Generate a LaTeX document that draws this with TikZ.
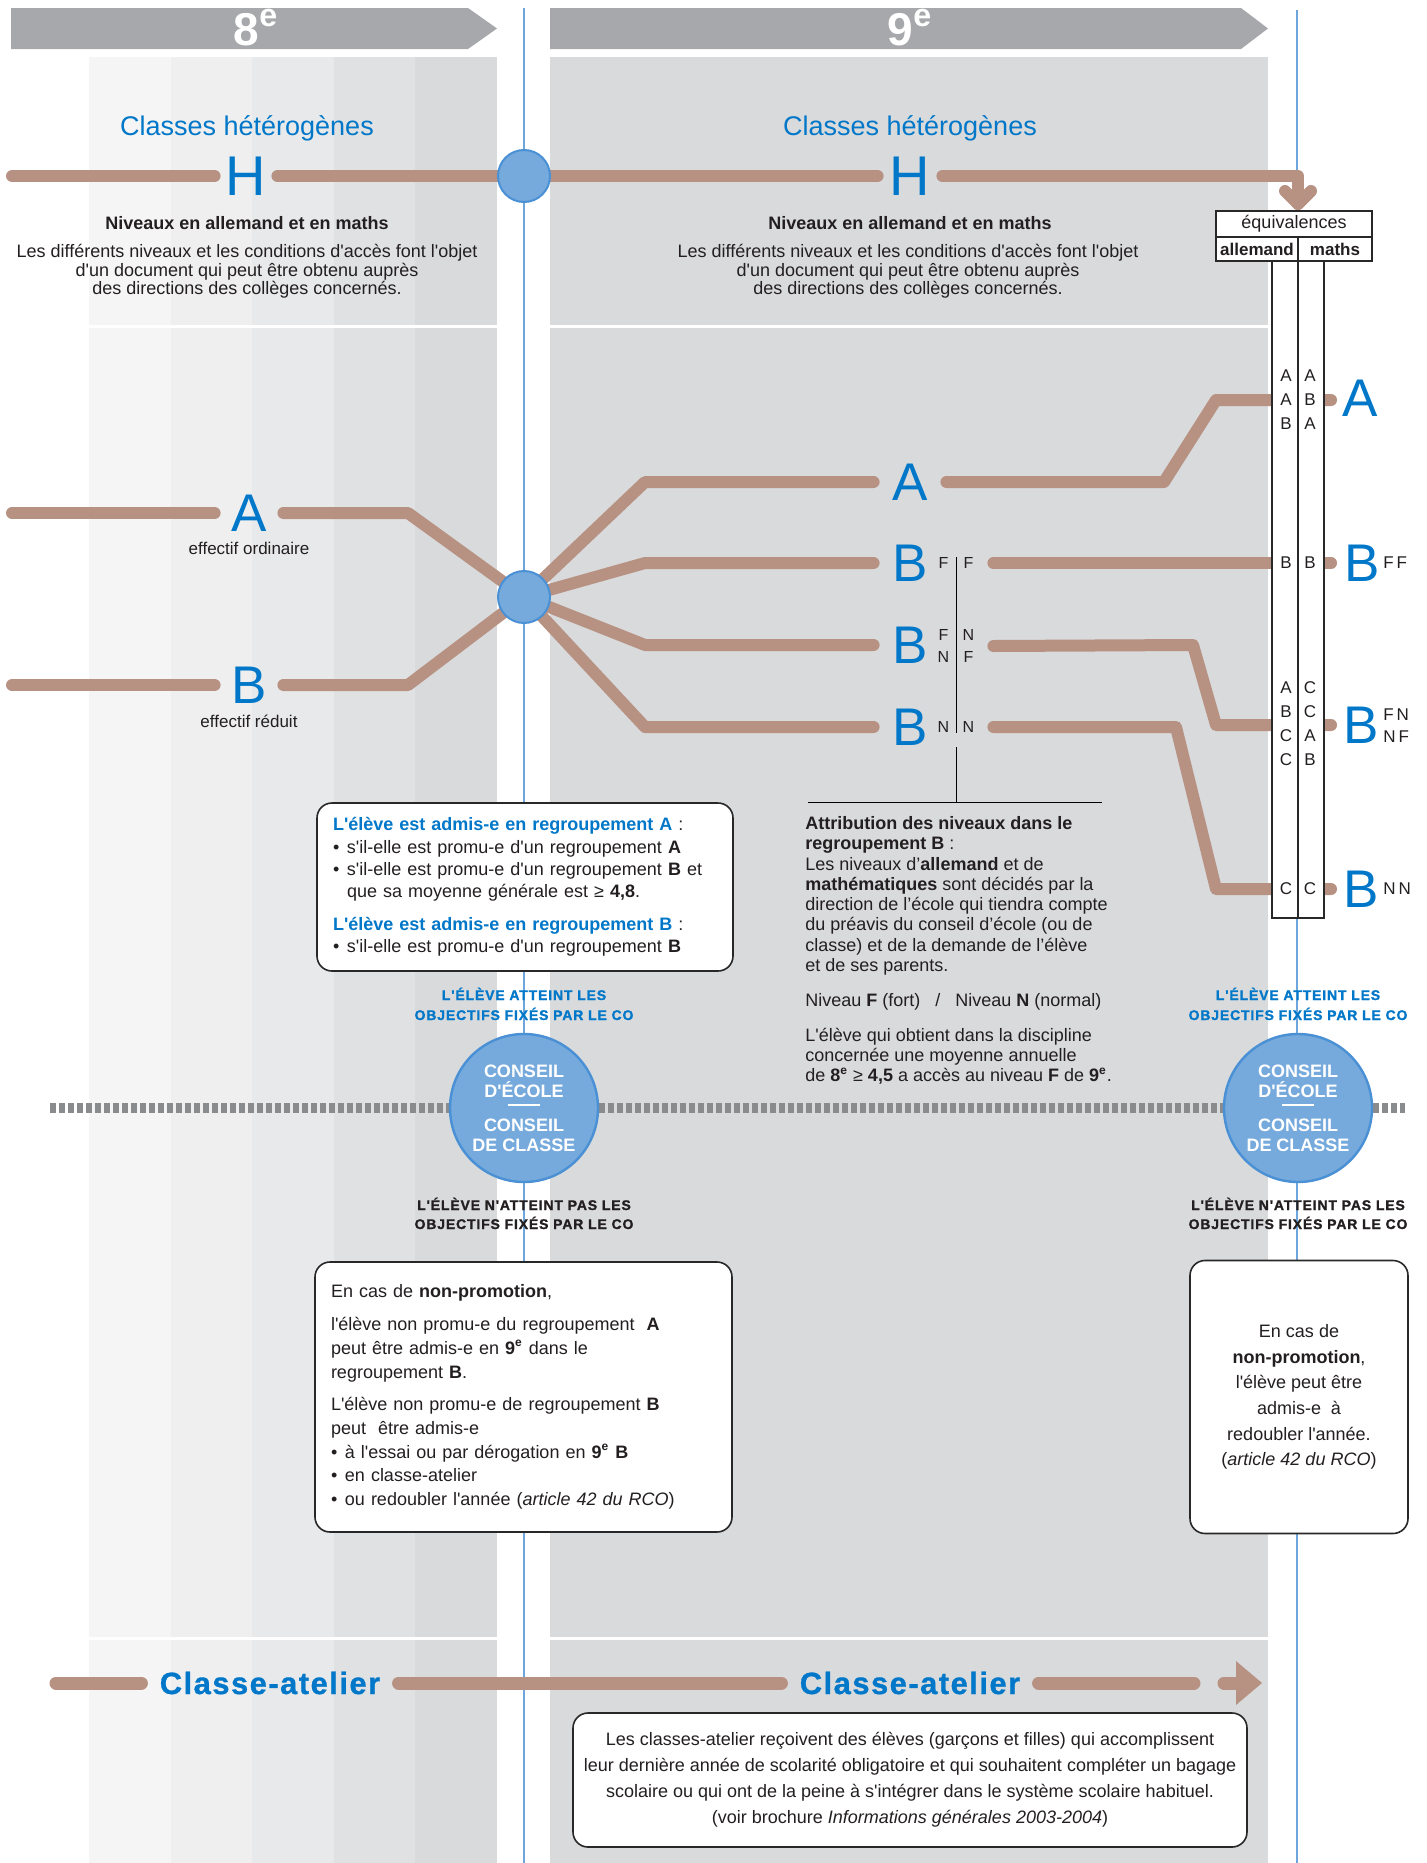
\documentclass[tikz,border=0pt]{standalone}
\usepackage{fontspec}
\setmainfont{Liberation Sans}[Ligatures=TeXOff]
\usetikzlibrary{calc}
\definecolor{brn}{RGB}{183,146,131}
\definecolor{bltxt}{RGB}{0,119,200}
\definecolor{blfill}{RGB}{118,170,220}
\definecolor{blline}{RGB}{74,144,212}
\definecolor{vline}{RGB}{110,165,220}
\definecolor{hdr}{RGB}{167,168,171}
\definecolor{pnl}{RGB}{217,218,220}
\definecolor{sA}{RGB}{245,245,246}
\definecolor{sB}{RGB}{239,239,240}
\definecolor{sC}{RGB}{232,233,234}
\definecolor{sD}{RGB}{224,225,227}
\definecolor{sE}{RGB}{217,218,220}
\definecolor{dotg}{RGB}{138,139,141}
\definecolor{txt}{RGB}{35,31,32}
\definecolor{bord}{RGB}{40,40,40}
\newcommand{\myfs}[2]{\fontsize{#1}{#2}\selectfont}
\newcommand{\bul}{\makebox[7pt][l]{\textbullet}}
\newcommand{\tstr}{\rule{0pt}{10pt}}
\newcommand{\pr}[2]{\makebox[5.5pt]{#1}\hspace{7pt}\makebox[5.5pt]{#2}}
\pgfdeclarelayer{panels}
\pgfdeclarelayer{lines}
\pgfsetlayers{panels,lines,main}
\begin{document}
\begin{tikzpicture}[x=0.5pt,y=-0.5pt,
  brw/.style={draw=brn, line width=6pt, line cap=round, line join=round},
  brwthick/.style={draw=brn, line width=6.5pt, line cap=round},
  hub/.style={circle, fill=blfill, draw=blline, line width=1pt, minimum size=26pt, inner sep=0pt},
  conseil/.style={circle, fill=blfill, draw=blline, line width=1.2pt, minimum size=74pt, inner sep=0pt, text=white, font=\bfseries\myfs{9}{10}, align=center},
  bigl/.style={text=bltxt, font=\myfs{26.5}{27}, inner sep=0pt, minimum width=#1},
  bigh/.style={text=bltxt, font=\myfs{28}{28}, inner sep=0pt, minimum width=#1},
  ttl/.style={text=bltxt, font=\myfs{13.5}{14}, inner sep=0pt, anchor=base},
  subt/.style={text=txt, font=\bfseries\myfs{9}{10}, inner sep=0pt, anchor=base},
  para/.style={text=txt, font=\myfs{9}{9.3}, inner sep=0pt, anchor=north, align=center},
  smallt/.style={text=txt, font=\myfs{8.5}{10}, inner sep=0pt, anchor=base},
  flab/.style={text=txt, font=\myfs{8}{11}, inner sep=0pt, align=center, minimum width=37pt},
  colt/.style={text=txt, font=\myfs{8.5}{12}, inner sep=0pt, align=center},
  suplab/.style={text=txt, font=\myfs{8.5}{11}, inner sep=0pt, align=left, anchor=west},
  tbl/.style={draw=bord, line width=0.6pt, fill=white, inner sep=0pt, text=txt},
  rbox/.style={draw=bord, line width=0.8pt, fill=white, rounded corners=7.5pt, inner xsep=8pt, inner ysep=0pt, text=txt},
  capst/.style={font=\bfseries\myfs{7}{9}\addfontfeature{LetterSpace=6,FakeBold=1.2}, inner sep=0pt, anchor=base},
  catl/.style={text=bltxt, font=\bfseries\myfs{15.4}{16}\addfontfeature{LetterSpace=5,FakeBold=1}, inner xsep=9pt, inner ysep=0pt},
  hdrt/.style={text=white, font=\bfseries\myfs{23}{23}, inner sep=0pt, anchor=base},
  midt/.style={text=txt, font=\myfs{9}{10.15}, inner sep=0pt, anchor=north west, align=left},
  thinl/.style={draw=black, line width=0.5pt},
]
\useasboundingbox (0,0) rectangle (1426,1863);

% ---------- headers ----------
\node[hdrt] (t8) at (256,45) {8\textsuperscript{e}};
\node[hdrt] (t9) at (910,45) {9\textsuperscript{e}};

% ---------- top: classes heterogenes ----------
\node[ttl] (ch8) at (247,135) {Classes hétérogènes};
\node[ttl] (ch9) at (910,135) {Classes hétérogènes};
\node[hub] (c8) at (524,176) {};
\node[bigh=31pt] (H8) at (246,176) {H};
\node[bigh=32pt] (H9) at (910,176) {H};
\node[subt] (n8) at (247,229) {Niveaux en allemand et en maths};
\node[subt] (n9) at (910,229) {Niveaux en allemand et en maths};
\node[para] (p8) at (247,237) {\tstr Les différents niveaux et les conditions d'accès font l'objet\\d'un document qui peut être obtenu auprès\\des directions des collèges concernés.};
\node[para] (p9) at (908,237) {\tstr Les différents niveaux et les conditions d'accès font l'objet\\d'un document qui peut être obtenu auprès\\des directions des collèges concernés.};

% ---------- 8e groups ----------
\node[bigl=34pt] (A8) at (249,513) {A};
\node[smallt] (eo) at (249,554) {effectif ordinaire};
\node[bigl=34pt] (B8) at (249,685) {B};
\node[smallt] (er) at (249,727) {effectif réduit};
\node[hub] (c9) at (524,597) {};

% ---------- 9e groups ----------
\node[bigl=36pt] (A9) at (910,482) {A};
\node[bigl=36pt] (B91) at (910,563) {B};
\node[bigl=36pt] (B92) at (910,645) {B};
\node[bigl=36pt] (B93) at (910,727) {B};
\node[flab] (L91) at (956,563) {\pr{F}{F}};
\node[flab] (L92) at (956,646) {\pr{F}{N}\\\pr{N}{F}};
\node[flab] (L93) at (956,727) {\pr{N}{N}};
\draw[thinl] (956,557) -- (956,733);
\draw[thinl] (956,747) -- (956,802);
\draw[thinl] (808,802) -- (1102,802);

\node[midt] (attr) at (805,809) {\tstr\textbf{Attribution des niveaux dans le}\\
\textbf{regroupement B} :\\
Les niveaux d’\textbf{allemand} et de\\
\textbf{mathématiques} sont décidés par la\\
direction de l’école qui tiendra compte\\
du préavis du conseil d’école (ou de\\
classe) et de la demande de l’élève\\
et de ses parents.\\[7.3pt]
Niveau \textbf{F} (fort) \ \ / \ \ Niveau \textbf{N} (normal)\\[7.3pt]
L'élève qui obtient dans la discipline\\
concernée une moyenne annuelle\\
de \textbf{8\textsuperscript{e}} ≥ \textbf{4,5} a accès au niveau \textbf{F} de \textbf{9\textsuperscript{e}}.};

% ---------- equivalences table ----------
\node[tbl, minimum width=26pt, minimum height=328.5pt] (col) at (1298,589.5) {};
\draw[bord, line width=0.6pt] (col.north) -- (col.south);
\node[tbl, minimum width=78pt, minimum height=13pt, font=\myfs{9}{10}] (eq) at (1294,224) {équivalences};
\node[tbl, minimum width=41pt, minimum height=12pt, font=\bfseries\myfs{8.5}{10}] (al) at (1257,249) {allemand};
\node[tbl, minimum width=37pt, minimum height=12pt, font=\bfseries\myfs{8.5}{10}] (ma) at (1335,249) {maths};
\node[colt] (ca1) at (1286,400) {A\\A\\B};
\node[colt] (cb1) at (1310,400) {A\\B\\A};
\node[colt] (ca2) at (1286,563) {B};
\node[colt] (cb2) at (1310,563) {B};
\node[colt] (ca3) at (1286,724) {A\\B\\C\\C};
\node[colt] (cb3) at (1310,724) {C\\C\\A\\B};
\node[colt] (ca4) at (1286,889) {C};
\node[colt] (cb4) at (1310,889) {C};

\node[bigl=0pt] (RA) at (1360,398) {A};
\node[bigl=0pt] (RB1) at (1362,563) {B};
\node[suplab] (s1) at (1383,563) {F\,F};
\node[bigl=0pt] (RB2) at (1361,725) {B};
\node[suplab] (s2) at (1383,726) {F\,N\\N\,F};
\node[bigl=0pt] (RB3) at (1361,889) {B};
\node[suplab] (s3) at (1383,889) {N\,N};

% ---------- box admission ----------
\node[rbox, minimum width=208pt, minimum height=84pt, text width=192pt, align=left, font=\myfs{9}{11.2}] (bx1) at (525,887) {{\color{bltxt}\bfseries L'élève est admis-e en regroupement A} :\\
\bul s'il-elle est promu-e d'un regroupement \textbf{A}\\
\bul s'il-elle est promu-e d'un regroupement \textbf{B} et\\
\hspace*{7pt}que sa moyenne générale est ≥ \textbf{4,8}.\\[5pt]
{\color{bltxt}\bfseries L'élève est admis-e en regroupement B} :\\
\bul s'il-elle est promu-e d'un regroupement \textbf{B}};

% ---------- conseils ----------
\node[capst, text=bltxt] (o1a) at (524,1000) {L'ÉLÈVE ATTEINT LES};
\node[capst, text=bltxt] (o1b) at (524,1020) {OBJECTIFS FIXÉS PAR LE CO};
\node[conseil] (k1) at (524,1108) {CONSEIL\\D'ÉCOLE\\[-5.5pt]\rule{16pt}{1.2pt}\\[2.5pt]CONSEIL\\DE CLASSE};
\node[capst, text=txt] (n1a) at (524,1210) {L'ÉLÈVE N'ATTEINT PAS LES};
\node[capst, text=txt] (n1b) at (524,1229) {OBJECTIFS FIXÉS PAR LE CO};

\node[capst, text=bltxt] (o2a) at (1298,1000) {L'ÉLÈVE ATTEINT LES};
\node[capst, text=bltxt] (o2b) at (1298,1020) {OBJECTIFS FIXÉS PAR LE CO};
\node[conseil] (k2) at (1298,1108) {CONSEIL\\D'ÉCOLE\\[-5.5pt]\rule{16pt}{1.2pt}\\[2.5pt]CONSEIL\\DE CLASSE};
\node[capst, text=txt] (n2a) at (1298,1210) {L'ÉLÈVE N'ATTEINT PAS LES};
\node[capst, text=txt] (n2b) at (1298,1229) {OBJECTIFS FIXÉS PAR LE CO};

% ---------- non-promotion boxes ----------
\node[rbox, minimum width=208.5pt, minimum height=135pt, text width=192.5pt, align=left, font=\myfs{9}{11.9}] (bx2) at (523.5,1397) {En cas de \textbf{non-promotion},\\[4.6pt]
l'élève non promu-e du regroupement \ \textbf{A}\\
peut être admis-e en \textbf{9\textsuperscript{e}} dans le\\
regroupement \textbf{B}.\\[4.2pt]
L'élève non promu-e de regroupement \textbf{B}\\
peut \ être admis-e\\
\bul à l'essai ou par dérogation en \textbf{9\textsuperscript{e} B}\\
\bul en classe-atelier\\
\bul ou redoubler l'année (\textit{article 42 du RCO})};

\node[rbox, minimum width=109pt, minimum height=136.5pt, align=center, font=\myfs{9}{12.8}] (rb) at (1299,1397) {En cas de\\
\textbf{non-promotion},\\
l'élève peut être\\
admis-e \ à\\
redoubler l'année.\\
(\textit{article 42 du RCO})};

% ---------- classe-atelier ----------
\node[catl] (CA8) at (270,1683) {Classe-atelier};
\node[catl] (CA9) at (910,1683) {Classe-atelier};
\node[rbox, inner xsep=3pt, minimum width=337pt, minimum height=67pt, align=center, font=\myfs{9}{13}] (bx3) at (910,1780) {Les classes-atelier reçoivent des élèves (garçons et filles) qui accomplissent\\
leur dernière année de scolarité obligatoire et qui souhaitent compléter un bagage\\
scolaire ou qui ont de la peine à s'intégrer dans le système scolaire habituel.\\
(voir brochure \textit{Informations générales 2003-2004})};

% ---------- brown connectors ----------
\begin{pgfonlayer}{lines}
\coordinate (hL) at (12,176);
\coordinate (hC) at (1298,176);
\coordinate (hT) at (1298,204);
\draw[brw] (hL) -- (H8.west);
\draw[brw] (H8.east) -- (c8.center);
\draw[brw] (c8.center) -- (H9.west);
\draw[brw] (H9.east) -- (hC) -- (hT);
\draw[brw] (1285,191) -- (hT) -- (1311,191);

\coordinate (aL) at (12,513);
\coordinate (bL) at (12,685);
\draw[brw] (aL) -- (A8.west);
\draw[brw] (A8.east) -- (408,513) -- (c9.center);
\draw[brw] (bL) -- (B8.west);
\draw[brw] (B8.east) -- (408,685) -- (c9.center);

\draw[brw] (c9.center) -- (645,482) -- (A9.west);
\draw[brw] (c9.center) -- (645,563) -- (B91.west);
\draw[brw] (c9.center) -- (645,645) -- (B92.west);
\draw[brw] (c9.center) -- (645,727) -- (B93.west);

\coordinate (eA) at (1331,400);
\coordinate (eB1) at (1331,563);
\coordinate (eB2) at (1331,725);
\coordinate (eB3) at (1331,889);
\draw[brw] (A9.east) -- (1164,482) -- (1216,400) -- (eA);
\draw[brw] (L91.east) -- (eB1);
\draw[brw] (L92.east) -- (1193,645) -- (1216,725) -- (eB2);
\draw[brw] (L93.east) -- (1176,727) -- (1216,889) -- (eB3);

\coordinate (kL) at (56,1683);
\coordinate (kR) at (1194,1683);
\coordinate (arS) at (1224,1683);
\coordinate (arB) at (1240,1683);
\draw[brwthick] (kL) -- (CA8.west);
\draw[brwthick] (CA8.east) -- (CA9.west);
\draw[brwthick] (CA9.east) -- (kR);
\draw[brwthick] (arS) -- (arB);
\fill[brn] (1236,1661) -- (1262,1683) -- (1236,1705) -- cycle;
\end{pgfonlayer}

% ---------- panels ----------
\begin{pgfonlayer}{panels}
\fill[white] (0,0) rectangle (1426,1863);
\fill[hdr] (11,8) -- (468,8) -- (497,28.5) -- (468,49) -- (11,49) -- cycle;
\fill[hdr] (550,8) -- (1241,8) -- (1268,28.5) -- (1241,49) -- (550,49) -- cycle;
\fill[sA] (89,57) rectangle (171,1863);
\fill[sB] (171,57) rectangle (252,1863);
\fill[sC] (252,57) rectangle (334,1863);
\fill[sD] (334,57) rectangle (415,1863);
\fill[sE] (415,57) rectangle (497,1863);
\fill[pnl] (550,57) rectangle (1268,1863);
\fill[white] (89,325) rectangle (497,328);
\fill[white] (550,325) rectangle (1268,328);
\fill[white] (89,1637) rectangle (497,1640);
\fill[white] (550,1637) rectangle (1268,1640);
\draw[vline, line width=1pt] (524,8) -- (524,1863);
\draw[vline, line width=1pt] (1297,10) -- (1297,1863);
\draw[dotg, line width=5pt, dash pattern=on 2.75pt off 1.75pt] (50,1108) -- (1405,1108);
\end{pgfonlayer}
\end{tikzpicture}
\end{document}
